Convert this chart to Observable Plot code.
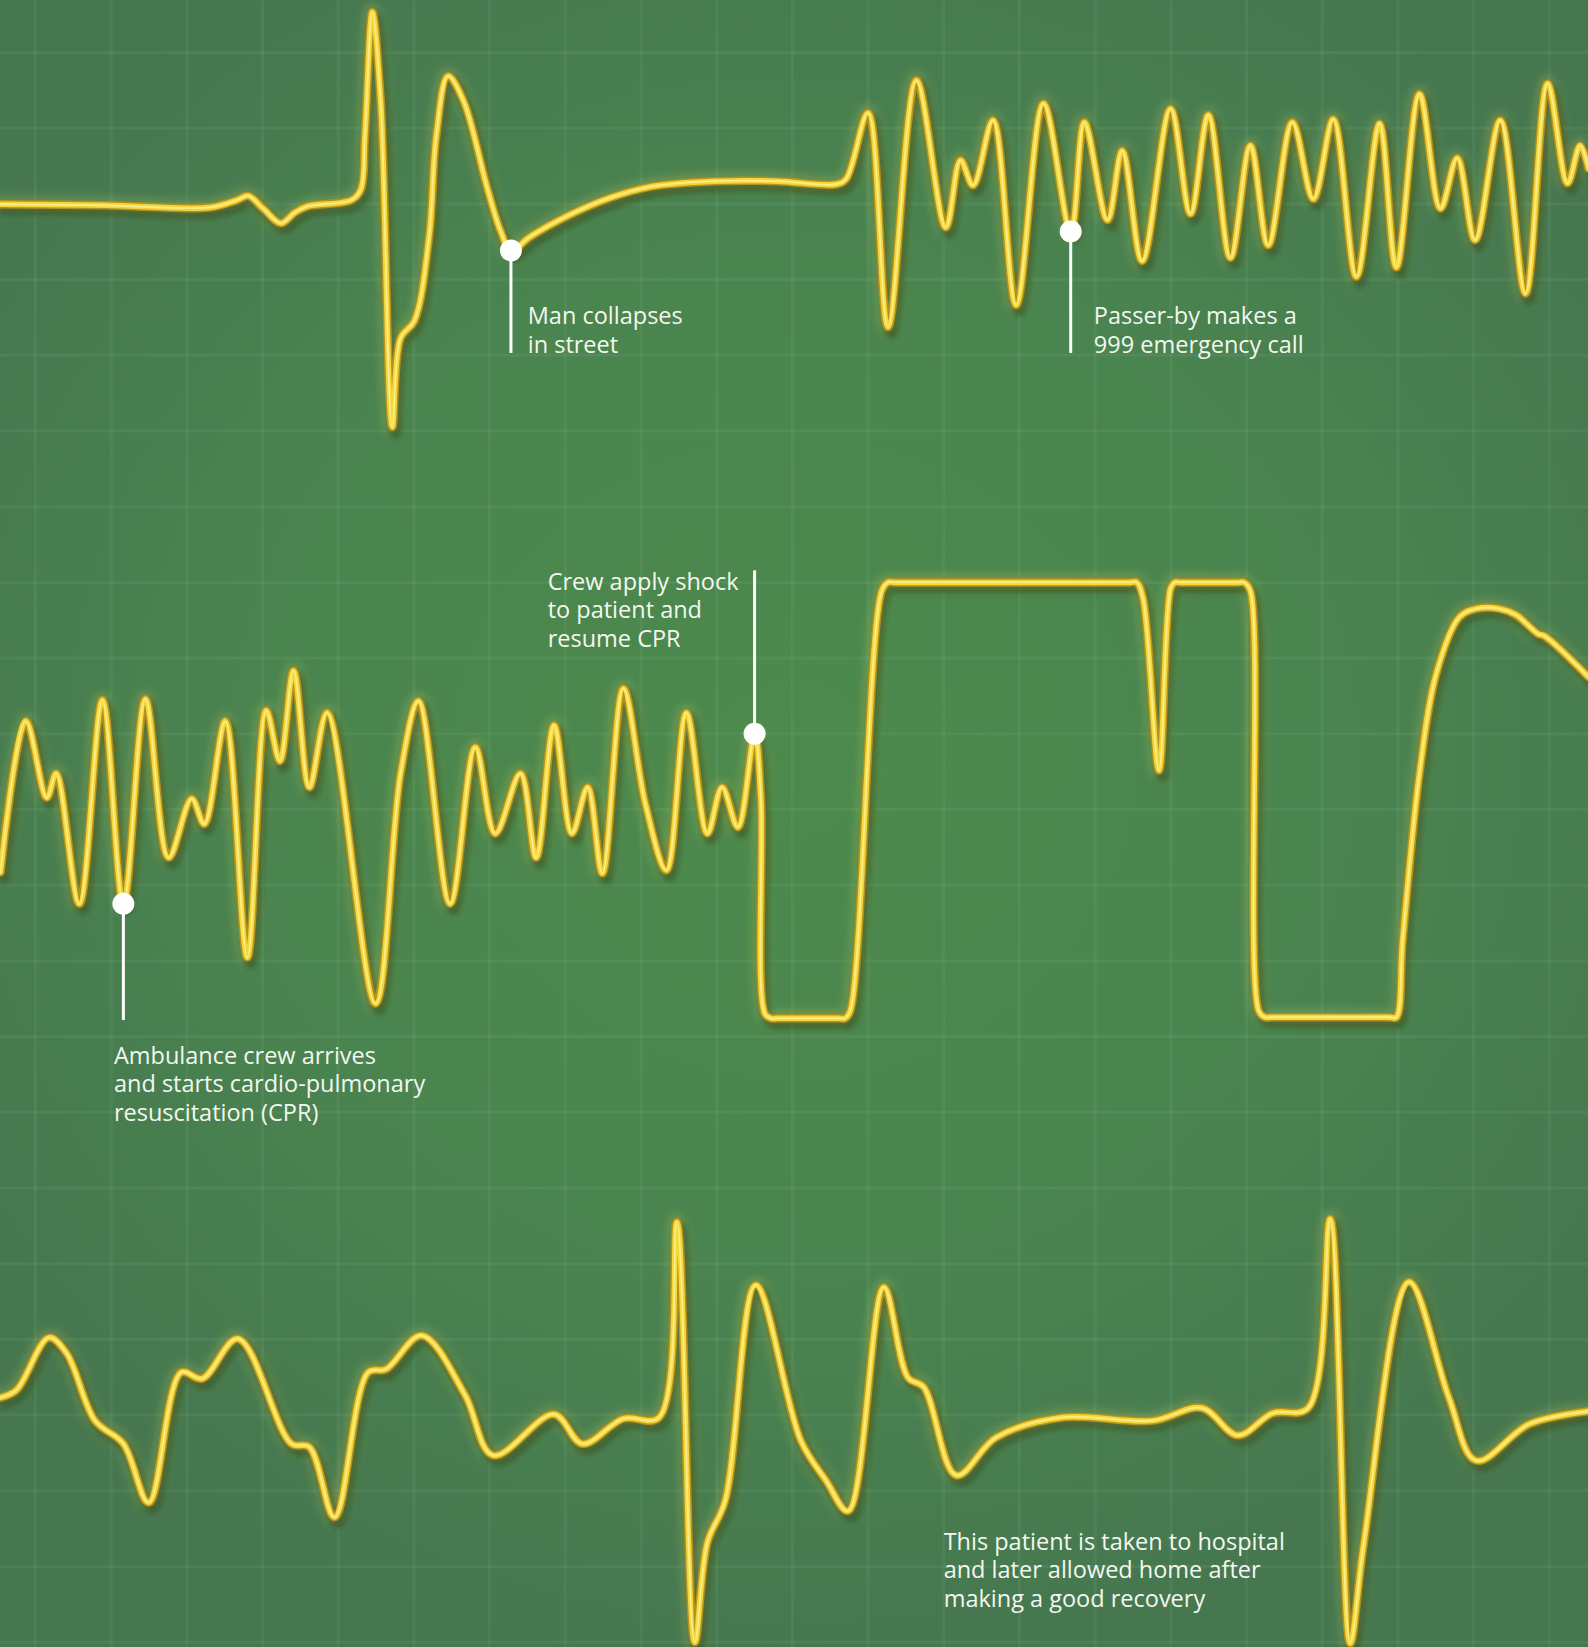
<!DOCTYPE html>
<html>
<head>
<meta charset="utf-8">
<script src="https://cdn.jsdelivr.net/npm/d3@7"></script>
<script src="https://cdn.jsdelivr.net/npm/@observablehq/plot@0.6"></script>
<style>
  html, body { margin: 0; padding: 0; width: 1588px; height: 1647px; overflow: hidden; }
  body {
    background: radial-gradient(ellipse 62% 56% at 50% 46%, #4c8a4c 0%, #4a844f 55%, #46774f 100%);
  }
  #chart svg { display: block; }
</style>
</head>
<body>
<div id="chart"></div>
<script>
// ---- Data: three ECG strips (time vs signal, signal relative to each strip's baseline) ----
const stripLabels = ["Collapse and 999 call", "CPR and shock", "Recovery"];
const stripBaseline = [195, 770, 1350];

const time1 = [0,100,199,225,236,250,267,280,292,334,343,347,354,362,373,381,394,408,415,426,441,463,476,486,504,540,580,620,680,740,795,805,826,845,872,900,914,926,945,967,993,1019,1032,1054,1068,1087,1114,1133,1150,1171,1190,1207,1230,1250,1269,1291,1313,1329,1351,1371,1387,1404,1428,1452,1473,1492,1504,1512];
const signal1 = [1,0,-2,5,9,-3,-17,-7,-1,5,15,67,184,99,-211,-126,-110,-30,67,123,99,18,-24,-43,-30,-10,7,18,23,23,20,25,88,-116,119,-21,43,19,81,-95,97,-25,79,-14,52,-53,92,-8,86,-50,57,-38,79,6,82,-68,78,-59,106,-3,45,-33,81,-84,116,21,57,35];

const time2 = [0,24,44,53,75,97,117,138,160,182,194,214,235,253,266,279,294,311,357,381,398,428,452,471,495,510,527,544,559,573,593,614,634,653,673,687,702,718,724,728,734,740,798,804,809,839,845,852,1075,1082,1088,1103,1114,1118,1124,1178,1184,1190,1198,1204,1210,1323,1329,1335,1351,1367,1389,1405,1427,1443,1464,1470,1512];
const signal2 = [-60,84,11,34,-90,104,-90,105,-46,10,-14,84,-141,94,46,132,21,92,-185,35,103,-90,59,-23,34,-46,80,-23,21,-61,115,5,-58,92,-23,21,-17,72,10,-195,-199,-199,-199,-199,-192,208,216,216,216,216,200,37,210,216,216,216,216,208,-192,-198,-198,-198,-198,-125,34,129,183,191,191,185,167,165,126];

const time3 = [0,15,46,63,90,117,141,172,192,226,277,294,318,350,367,401,442,469,527,554,593,627,644,661,673,690,719,762,786,807,841,864,879,910,948,1010,1097,1144,1178,1211,1245,1266,1285,1298,1341,1379,1405,1456,1512];
const signal3 = [20,27,77,62,-2,-24,-80,44,38,76,-24,-27,-94,44,47,79,23,-35,4,-24,0,1,187,-213,-118,-78,127,-21,-59,-88,125,39,30,-54,-18,1,-2,10,-16,5,10,190,-214,-119,130,20,-40,-5,7];

// ---- Annotations ----
const noteLabels = [
  "Man collapses\nin street",
  "Passer-by makes a\n999 emergency call",
  "Ambulance crew arrives\nand starts cardio-pulmonary\nresuscitation (CPR)",
  "Crew apply shock\nto patient and\nresume CPR",
  "This patient is taken to hospital\nand later allowed home after\nmaking a good recovery"
];
const noteStrip = [0, 0, 1, 1, 2];
const noteTime = [486, 1019, 117, 718, null];
const noteSignal = [-43, -25, -90, 72, null];

// layout of the callouts (stem end and text block top, in strip signal units)
const stemEnd = [-141, -141, -201, 227, null];
const textTime = [502, 1041, 108, 521, 898];
const textTop = [-94, -94, -223, 228, -106];

// ---- Build tables ----
const trace = [];
[[time1, signal1], [time2, signal2], [time3, signal3]].forEach(([ts, vs], i) => {
  ts.forEach((t, j) => trace.push({strip: stripLabels[i], t, y: vs[j] - stripBaseline[i]}));
});
const notes = noteLabels.map((label, i) => ({
  label,
  t: noteTime[i],
  y: noteSignal[i] == null ? null : noteSignal[i] - stripBaseline[noteStrip[i]],
  yEnd: stemEnd[i] == null ? null : stemEnd[i] - stripBaseline[noteStrip[i]],
  tt: textTime[i],
  ty: textTop[i] - stripBaseline[noteStrip[i]]
}));
const callouts = notes.filter(d => d.t != null);

const gridStep = 72.07;
const gridT = d3.range(33.3, 1512, gridStep);
const gridY = d3.range(49.5, 1568, gridStep).map(v => -v);

const lineOpts = {x: "t", y: "y", z: "strip", curve: "catmull-rom"};

const chart = Plot.plot({
  width: 1588,
  height: 1647,
  margin: 0,
  style: {background: "transparent", overflow: "visible"},
  x: {domain: [0, 1512], axis: null},
  y: {domain: [-1568, 0], axis: null},
  marks: [
    Plot.ruleX(gridT, {x: d => d, stroke: "#b5e0b8", strokeOpacity: 0.075, strokeWidth: 3}),
    Plot.ruleY(gridY, {y: d => d, stroke: "#b5e0b8", strokeOpacity: 0.075, strokeWidth: 3}),
    Plot.line(trace, {...lineOpts, stroke: "#1a3519", strokeWidth: 11, strokeOpacity: 0.6, dx: 3, dy: 5}),
    Plot.line(trace, {...lineOpts, stroke: "#e6e060", strokeWidth: 16, strokeOpacity: 0.22}),
    Plot.line(trace, {...lineOpts, stroke: "#b39020", strokeWidth: 8.5}),
    Plot.line(trace, {...lineOpts, stroke: "#f2d63a", strokeWidth: 5.5}),
    Plot.line(trace, {...lineOpts, stroke: "#fff5a0", strokeWidth: 1.8, strokeOpacity: 0.75}),
    Plot.ruleX(callouts, {x: "t", y1: "y", y2: "yEnd", stroke: "#ffffff", strokeWidth: 3}),
    Plot.dot(callouts, {x: "t", y: "y", r: 11, fill: "#ffffff", stroke: "none"}),
    Plot.text(notes, {
      x: "tt", y: "ty", text: "label",
      textAnchor: "start", lineAnchor: "top", lineHeight: 1.21,
      fontSize: 23.5, fontFamily: "Open Sans", fill: "#f4f7ef"
    })
  ]
});

document.getElementById("chart").appendChild(chart);

// soft shadow and glow on the trace
const svg = d3.select(chart.tagName.toLowerCase() === "svg" ? chart : chart.querySelector("svg"));
const defs = svg.insert("defs", ":first-child");
defs.append("filter").attr("id", "shadowBlur").attr("x", "-5%").attr("y", "-20%").attr("width", "110%").attr("height", "140%")
  .append("feGaussianBlur").attr("stdDeviation", 2.5);
defs.append("filter").attr("id", "glowBlur").attr("x", "-5%").attr("y", "-20%").attr("width", "110%").attr("height", "140%")
  .append("feGaussianBlur").attr("stdDeviation", 4);
const lineGroups = svg.selectAll('g[aria-label="line"]').nodes();
if (lineGroups[0]) d3.select(lineGroups[0]).attr("filter", "url(#shadowBlur)");
if (lineGroups[1]) d3.select(lineGroups[1]).attr("filter", "url(#glowBlur)");
</script>
</body>
</html>
